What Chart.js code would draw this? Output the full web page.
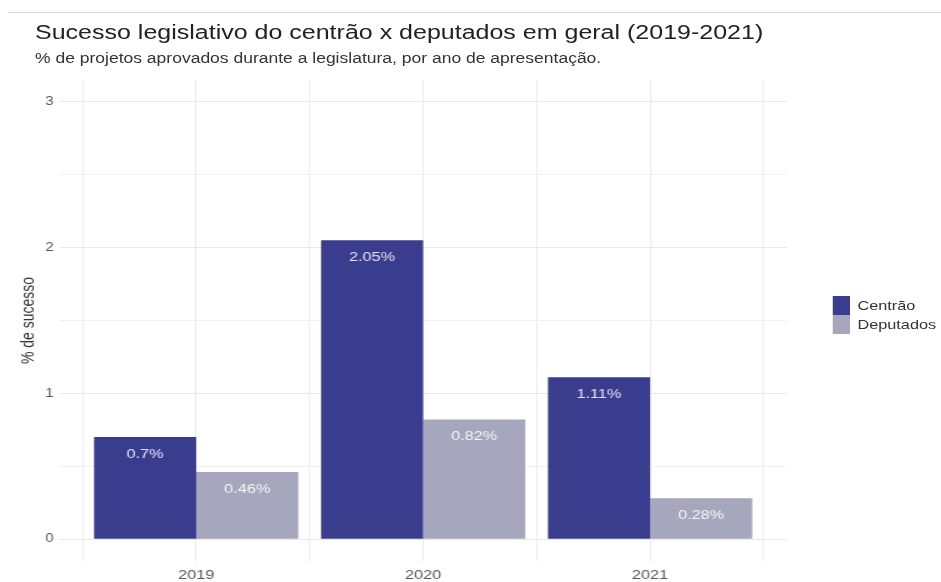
<!DOCTYPE html>
<html>
<head>
<meta charset="utf-8">
<script src="https://cdn.jsdelivr.net/npm/chart.js@4/dist/chart.umd.min.js"></script>
<style>
  html, body { margin: 0; padding: 0; background: #fff; overflow: hidden; }
  /* the reference is stretched horizontally, so the whole drawing is scaled by 1.25 in x */
  #wrap { position: relative; width: 753px; height: 582px; overflow: hidden;
          transform: scaleX(1.25); transform-origin: 0 0;
          font-family: "Liberation Sans", Arial, sans-serif; }
  #topline { position: absolute; left: 6px; right: 0; top: 12px; height: 1px; background: #d6d6d6; }
  #title { position: absolute; left: 28px; top: 22px; font-size: 20px; line-height: 20px; color: #222; white-space: nowrap; }
  #subtitle { position: absolute; left: 28px; top: 51px; font-size: 14px; line-height: 14px; color: #333; white-space: nowrap; }
  #legend { position: absolute; left: 666px; top: 296px; font-size: 13px; color: #333; }
  .item { display: flex; align-items: center; height: 19px; }
  .swatch { width: 14px; height: 19px; margin-right: 6px; }
  canvas { position: absolute; left: 0; top: 0; }
</style>
</head>
<body>
<div id="wrap">
  <canvas id="chart" width="753" height="582"></canvas>
  <div id="topline"></div>
  <div id="title">Sucesso legislativo do centrão x deputados em geral (2019-2021)</div>
  <div id="subtitle">% de projetos aprovados durante a legislatura, por ano de apresentação.</div>
  <div id="legend"></div>
</div>
<script>
// Chart data
const years = ['2019', '2020', '2021'];
const centrao = [0.70, 2.05, 1.11];
const deputados = [0.46, 0.82, 0.28];
const seriesNames = ['Centrão', 'Deputados'];
const seriesColors = ['#3a3d8e', '#a6a6bc'];
const yTickValues = [0, 0.5, 1, 1.5, 2, 2.5, 3];
const xGridValues = [-0.5, 0.5, 1.5, 2.5];

// ggplot-like expansion around the data
const xMin = -0.6, xMax = years.length - 1 + 0.6;
const yMin = -0.15, yMax = 3.15;

const toPoints = arr => arr.map((v, i) => ({ x: i, y: v }));

// Labels inside top of bars
const barLabels = {
    id: 'barLabels',
    afterDatasetsDraw(chart) {
        const ctx = chart.ctx;
        ctx.save();
        ctx.font = '13px "Liberation Sans", Arial, sans-serif';
        ctx.textAlign = 'center';
        ctx.textBaseline = 'middle';
        chart.data.datasets.forEach((ds, di) => {
            const meta = chart.getDatasetMeta(di);
            ctx.fillStyle = di === 0 ? '#e4e4f6' : '#f6f6f8';
            meta.data.forEach((bar, i) => {
                ctx.fillText(ds.data[i].y + '%', bar.x, bar.y + 17);
            });
        });
        ctx.restore();
    }
};

new Chart(document.getElementById('chart'), {
    type: 'bar',
    data: {
        datasets: [
            { label: seriesNames[0], data: toPoints(centrao), backgroundColor: seriesColors[0] },
            { label: seriesNames[1], data: toPoints(deputados), backgroundColor: seriesColors[1] }
        ]
    },
    options: {
        responsive: false,
        animation: false,
        layout: { padding: { top: 80, right: 124, bottom: 0, left: 0 } },
        datasets: { bar: { categoryPercentage: 0.9, barPercentage: 1.0 } },
        plugins: { legend: { display: false }, tooltip: { enabled: false } },
        scales: {
            x: {
                type: 'linear',
                min: xMin, max: xMax,
                offset: false,
                afterBuildTicks: s => { s.ticks = years.map((y, i) => ({ value: i })); },
                afterFit: s => { s.height = 21; },
                ticks: {
                    autoSkip: false, maxRotation: 0, padding: 7,
                    color: '#555', font: { family: 'Liberation Sans', size: 13 },
                    callback: v => years[v]
                },
                grid: { color: '#ebebeb', drawTicks: false, offset: false },
                border: { display: false }
            },
            xGrid: {
                type: 'linear', position: 'bottom',
                min: xMin, max: xMax,
                offset: false,
                afterBuildTicks: s => { s.ticks = xGridValues.map(v => ({ value: v })); },
                ticks: { display: false },
                grid: { color: '#eeeeee', drawTicks: false, offset: false },
                border: { display: false }
            },
            y: {
                min: yMin, max: yMax,
                afterBuildTicks: s => { s.ticks = yTickValues.map(v => ({ value: v })); },
                afterFit: s => { s.width = 48; },
                ticks: {
                    padding: 5, color: '#555', font: { family: 'Liberation Sans', size: 12 },
                    callback: v => Number.isInteger(v) ? String(v) : ''
                },
                grid: {
                    drawTicks: false,
                    color: c => Number.isInteger(c.tick.value) ? '#e8e8e8' : '#f1f1f1'
                },
                border: { display: false },
                title: {
                    display: true, text: '% de sucesso', color: '#333',
                    font: { family: 'Liberation Sans', size: 14 },
                    padding: { top: 15, bottom: 0 }
                }
            }
        }
    },
    plugins: [barLabels]
});

// Legend
const legend = document.getElementById('legend');
seriesNames.forEach((name, i) => {
    const row = document.createElement('div');
    row.className = 'item';
    row.innerHTML = `<span class="swatch" style="background:${seriesColors[i]}"></span><span>${name}</span>`;
    legend.appendChild(row);
});
</script>
</body>
</html>
